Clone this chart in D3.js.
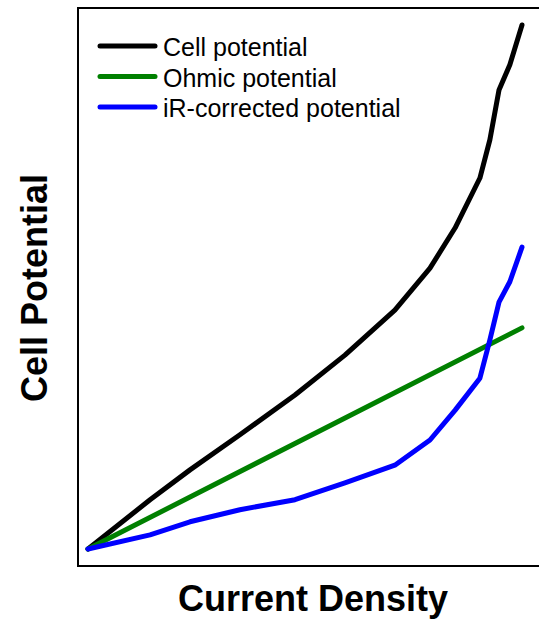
<!DOCTYPE html>
<html>
    <head>
        <script src="https://d3js.org/d3.v7.min.js"></script>
        <style type="text/css">
            body { margin: 0; background: #fff; }
            svg#mainSvg { width: 539px; height: 621px; display: block; }
            path.curve { fill: none; stroke-width: 5; stroke-linecap: round; stroke-linejoin: round; }
        </style>
    </head>
    <body>
        <svg id="mainSvg"></svg>
        <script type="text/javascript">
            // Data (arbitrary units)
            const currentDensity = [0, 0.143, 0.235, 0.350, 0.477, 0.592, 0.707, 0.788, 0.846, 0.903, 0.926, 0.947, 0.972, 1.0];
            const cellPotential = [0, 0.094, 0.151, 0.218, 0.294, 0.370, 0.456, 0.536, 0.613, 0.708, 0.781, 0.876, 0.924, 1.0];
            const irCorrected = [0, 0.027, 0.052, 0.075, 0.094, 0.126, 0.160, 0.208, 0.265, 0.326, 0.399, 0.471, 0.510, 0.576];
            const ohmicX = [0, 1.0];
            const ohmicPotential = [0, 0.422];
            const seriesNames = ["Cell potential", "Ohmic potential", "iR-corrected potential"];
            const seriesColors = ["#000000", "#008000", "#0000ff"];

            const svg = d3.select("#mainSvg");
            const font = "Liberation Sans, Arial, sans-serif";

            // Frame of the plot
            const frame = { left: 78, top: 8, right: 545, bottom: 566 };

            const x = d3.scaleLinear().domain([0, 1]).range([88, 522]);
            const y = d3.scaleLinear().domain([0, 1]).range([549, 25]);

            svg.append("path")
                .attr("d", `M${frame.right},${frame.top}H${frame.left}V${frame.bottom}H${frame.right}`)
                .attr("fill", "none")
                .attr("stroke", "#000")
                .attr("stroke-width", 2);

            const line = d3.line()
                .x((d) => x(d[0]))
                .y((d) => y(d[1]));

            const series = [
                d3.zip(currentDensity, cellPotential),
                d3.zip(ohmicX, ohmicPotential),
                d3.zip(currentDensity, irCorrected),
            ];

            // Draw order: cell, ohmic, then blue on top
            svg.append("g")
                .selectAll("path")
                .data(series)
                .enter()
                .append("path")
                .attr("class", "curve")
                .attr("d", (d) => line(d))
                .attr("stroke", (d, i) => seriesColors[i]);

            // Legend
            const legend = svg.append("g").attr("transform", "translate(100,46)");
            seriesNames.forEach((name, i) => {
                const g = legend.append("g").attr("transform", `translate(0,${i * 30.5})`);
                g.append("line")
                    .attr("x1", 0).attr("x2", 55)
                    .attr("y1", 0).attr("y2", 0)
                    .attr("stroke", seriesColors[i])
                    .attr("stroke-width", 5)
                    .attr("stroke-linecap", "round");
                g.append("text")
                    .attr("x", 63)
                    .attr("y", 10)
                    .attr("font-family", font)
                    .attr("font-size", 25)
                    .attr("fill", "#000")
                    .text(name);
            });

            // Axis titles
            svg.append("text")
                .attr("x", 313)
                .attr("y", 611)
                .attr("text-anchor", "middle")
                .attr("font-family", font)
                .attr("font-weight", "bold")
                .attr("font-size", 36)
                .text("Current Density");

            svg.append("text")
                .attr("transform", "translate(47,288) rotate(-90)")
                .attr("text-anchor", "middle")
                .attr("font-family", font)
                .attr("font-weight", "bold")
                .attr("font-size", 36)
                .text("Cell Potential");
        </script>
    </body>
</html>
